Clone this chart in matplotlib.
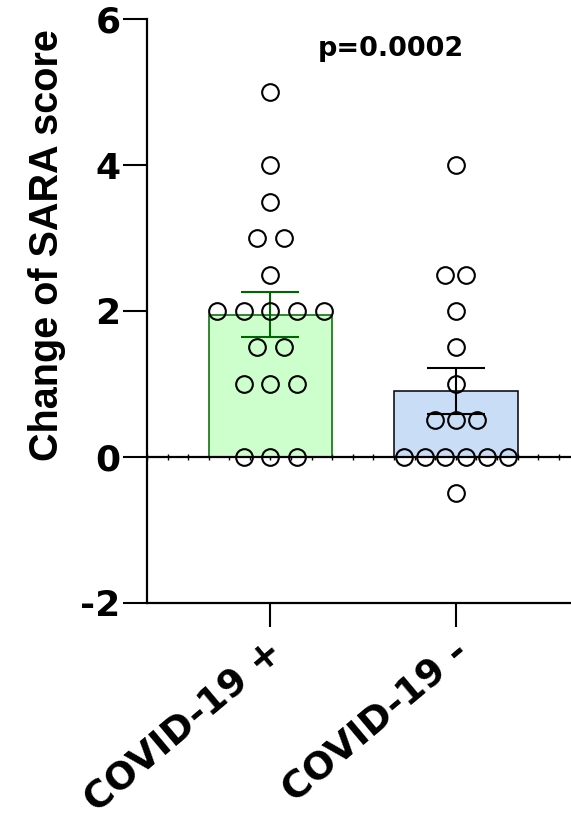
import numpy as np
import matplotlib
matplotlib.use("Agg")
import matplotlib.pyplot as plt
from matplotlib.ticker import MultipleLocator
from matplotlib.transforms import ScaledTranslation

# data
groups = ["COVID-19 +", "COVID-19 -"]
covid_pos = [5, 4, 3.5, 3, 3, 2.5, 2, 2, 2, 2, 2, 1.5, 1.5, 1, 1, 1, 0, 0, 0]
covid_neg = [4, 2.5, 2.5, 2, 1.5, 1, 0.5, 0.5, 0.5, 0, 0, 0, 0, 0, 0, -0.5]
p_label = "p=0.0002"
y_ticks = [-2, 0, 2, 4, 6]

fills = ["#CCFFCC", "#C9DEF6"]
edges = ["#006400", "#000000"]
spread = [0.144, 0.112]  # horizontal spacing of tied points

plt.rcParams['font.family'] = ['DejaVu Sans']
plt.rcParams['font.weight'] = 'bold'
plt.rcParams['axes.unicode_minus'] = False

fig = plt.figure(figsize=(5.71, 8.24), dpi=100)
ax = fig.add_axes([0.2574, 0.2686, 0.7426, 0.708])

for i, vals in enumerate([covid_pos, covid_neg]):
    vals = np.array(vals, dtype=float)
    mean = vals.mean()
    sem = vals.std(ddof=1) / np.sqrt(len(vals))
    ax.bar(i, mean, width=2/3, color=fills[i], edgecolor=edges[i], linewidth=1.1, zorder=1)
    ax.errorbar(i, mean, yerr=sem, color=edges[i], elinewidth=1.5, capsize=21,
                capthick=1.5, zorder=3)
    # spread tied values side by side
    xs = np.zeros(len(vals))
    for v in np.unique(vals):
        idx = np.where(vals == v)[0]
        n = len(idx)
        xs[idx] = (np.arange(n) - (n - 1) / 2) * spread[i]
    ax.plot(i + xs, vals, 'o', mfc='none', mec='black', ms=12, mew=1.5, zorder=4)

# zero line with its own small ticks
ax.axhline(0, color='black', lw=1.6, zorder=2)
zero_ax = ax.secondary_xaxis(0.25)
zero_ax.spines['bottom'].set_visible(False)
zero_ax.xaxis.set_major_locator(MultipleLocator(1/9))
zero_ax.tick_params(axis='x', direction='inout', length=5, width=1, labelbottom=False)

ax.set_xlim(-2/3, 1.622)
ax.set_ylim(-2, 6)
ax.set_yticks(y_ticks)
ax.set_xticks([0, 1])
ax.tick_params(axis='both', length=17, width=1.5, pad=2)
ax.tick_params(axis='y', labelsize=26)
ax.tick_params(axis='x', pad=16)
ax.set_xticklabels(groups, rotation=40, ha='right', va='center', rotation_mode='anchor',
                   fontsize=27, fontweight='bold')
for lab in ax.get_yticklabels():
    lab.set_fontweight('bold')
shift = ScaledTranslation(8/100, 0, fig.dpi_scale_trans)
for lab in ax.get_xticklabels():
    lab.set_transform(lab.get_transform() + shift)

for s in ['top', 'right']:
    ax.spines[s].set_visible(False)
for s in ['left', 'bottom']:
    ax.spines[s].set_linewidth(1.6)

ax.set_ylabel("Change of SARA score", fontsize=28.5, fontweight='bold',
              family=['Liberation Sans', 'DejaVu Sans'])
ax.yaxis.set_label_coords(-0.192, 0.613)
ax.text(0.652, 5.49, p_label, ha='center', va='baseline', fontsize=19.5, fontweight='bold')

fig.savefig("out.png", dpi=100)
